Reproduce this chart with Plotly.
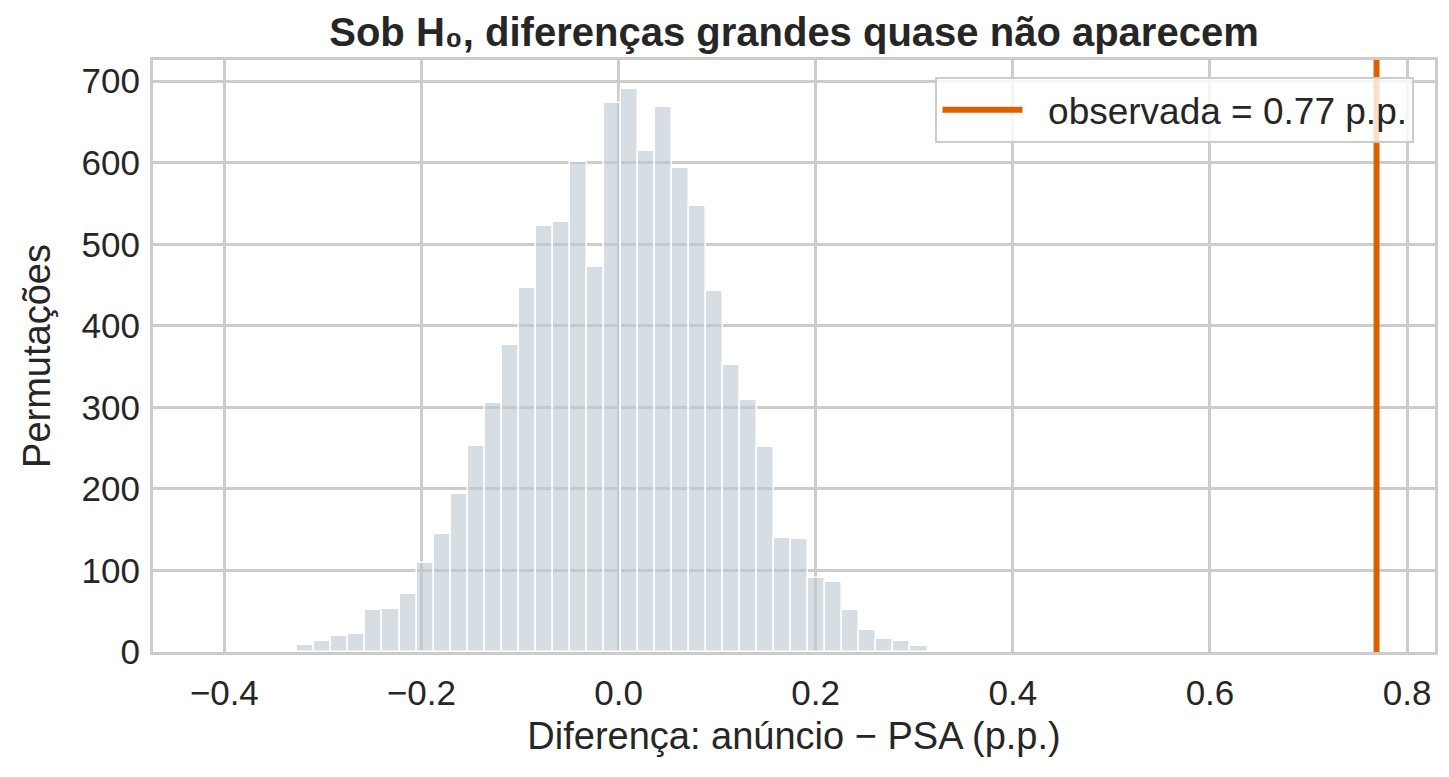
import numpy as np
import plotly.graph_objects as go

# histogram of permuted differences (p.p.), counts
bin_left = -0.3259
bin_width = 0.01728
counts = [8, 14, 20, 22, 51, 53, 71, 109, 145, 194, 253, 305, 377, 447,
          523, 527, 601, 472, 673, 690, 614, 668, 593, 547, 443, 352,
          309, 251, 140, 139, 91, 86, 51, 27, 16, 13, 7]

observed = 0.769
observed_label = "observada = 0.77 p.p."

x_ticks = [-0.4, -0.2, 0.0, 0.2, 0.4, 0.6, 0.8]
y_ticks = [0, 100, 200, 300, 400, 500, 600, 700]

x_range = [-0.4723, 0.8283]
y_range = [0, 726]

font = "Liberation Sans, Arial, sans-serif"
text_color = "#262626"
grid_color = "#cccccc"

centers = bin_left + bin_width * (np.arange(len(counts)) + 0.5)

fig = go.Figure()

fig.add_trace(go.Bar(
    x=centers,
    y=counts,
    width=bin_width,
    marker=dict(color="rgba(186,200,208,0.6)",
                line=dict(color="white", width=1.5)),
    showlegend=False,
    hoverinfo="x+y",
))

fig.add_trace(go.Scatter(
    x=[observed, observed],
    y=y_range,
    mode="lines",
    line=dict(color="#dd6000", width=6),
    # leading no-break spaces widen the gap between line sample and text
    name="\u00a0\u00a0" + observed_label,
))

fig.update_layout(
    width=1449,
    height=777,
    margin=dict(l=153, r=14, t=60, b=125),
    paper_bgcolor="white",
    plot_bgcolor="white",
    bargap=0,
    font=dict(family=font, size=35, color=text_color),
    title=dict(
        text="<b>Sob H₀, diferenças grandes quase não aparecem</b>",
        x=(153 + 1435) / 2 / 1449,
        xanchor="center",
        y=1 - 32 / 777,
        yanchor="middle",
        font=dict(family=font, size=40, color=text_color),
    ),
    legend=dict(
        x=0.984,
        y=0.971,
        xanchor="right",
        yanchor="top",
        bgcolor="rgba(255,255,255,0.8)",
        bordercolor=grid_color,
        borderwidth=2,
        font=dict(family=font, size=37, color=text_color),
        itemwidth=80,
    ),
    xaxis=dict(
        range=x_range,
        tickvals=x_ticks,
        tickformat=".1f",
        showgrid=True,
        gridcolor=grid_color,
        gridwidth=2.5,
        zeroline=False,
        showline=True,
        mirror=True,
        linecolor=grid_color,
        linewidth=3,
        ticks="",
        ticklabelstandoff=8,
        tickfont=dict(size=35),
        title=dict(text="Diferença: anúncio − PSA (p.p.)",
                   font=dict(size=38), standoff=12),
    ),
    yaxis=dict(
        range=y_range,
        tickvals=y_ticks,
        showgrid=True,
        gridcolor=grid_color,
        gridwidth=2.5,
        zeroline=False,
        showline=True,
        mirror=True,
        linecolor=grid_color,
        linewidth=3,
        ticks="",
        ticklabelstandoff=3,
        tickfont=dict(size=35),
        title=dict(text="Permutações", font=dict(size=38), standoff=20),
    ),
)

fig.write_html("out.html",
               config={"displayModeBar": False},
               post_script="document.body.style.margin = '0';")
